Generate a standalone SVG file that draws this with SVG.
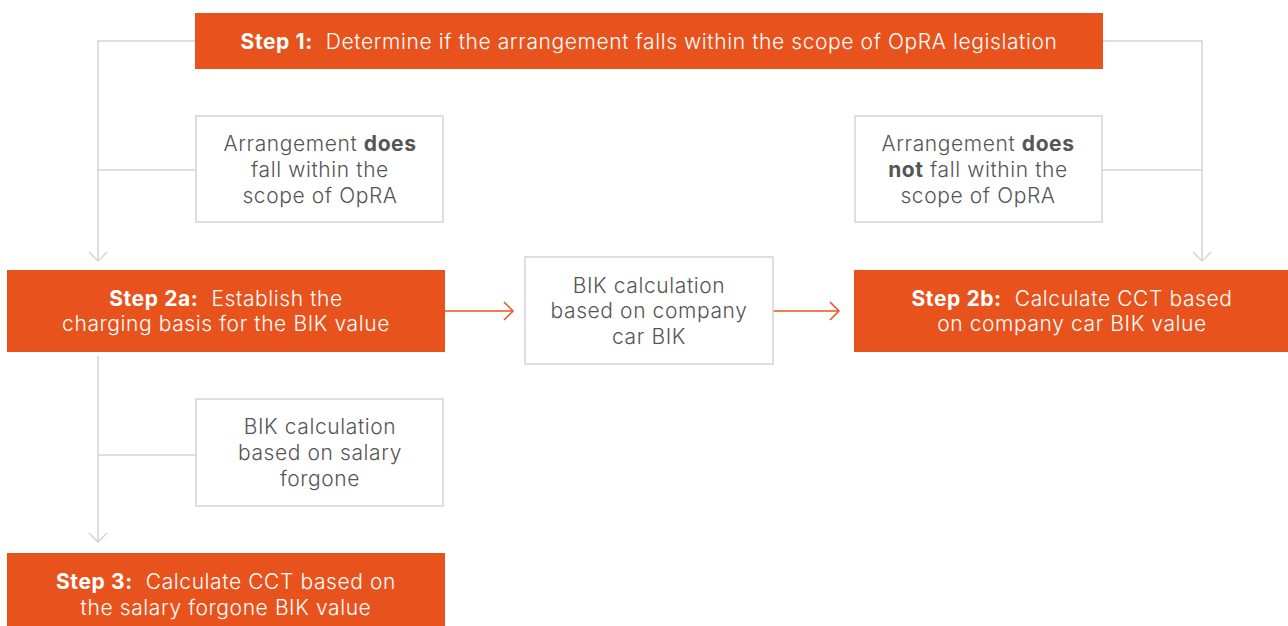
<svg xmlns="http://www.w3.org/2000/svg" width="1288" height="626" viewBox="0 0 1288 626">
<style>
.step{fill:#E8531D}
.opt{fill:#fff;stroke:#d4d4d4;stroke-width:1.5}
.st{font-family:Inter,"Open Sans",sans-serif;font-size:21px;font-weight:300;letter-spacing:0.6px;fill:#fff;text-anchor:middle;white-space:pre}
.ot{font-family:Inter,"Open Sans",sans-serif;font-size:21px;font-weight:300;letter-spacing:0.6px;fill:#555;text-anchor:middle}
.b{font-weight:700}
.g{fill:none;stroke:#d4d4d4;stroke-width:1.5}
.o{fill:none;stroke:#E8531D;stroke-width:1.5}
</style>
<defs>
<marker id="ag" markerWidth="20" markerHeight="20" refX="10" refY="10" markerUnits="userSpaceOnUse" orient="auto">
<path d="M1,1 L10,10 L1,19" fill="none" stroke="#d4d4d4" stroke-width="1.5"/>
</marker>
<marker id="ao" markerWidth="20" markerHeight="20" refX="10" refY="10" markerUnits="userSpaceOnUse" orient="auto">
<path d="M1,1 L10,10 L1,19" fill="none" stroke="#E8531D" stroke-width="1.5"/>
</marker>
</defs>
<rect width="1288" height="626" fill="#fff"/>
<g id="connectors">
<path class="g" d="M195,41 H98 V261" marker-end="url(#ag)"/>
<path class="g" d="M98,170 H196"/>
<path class="g" d="M1103,41 H1202 V261" marker-end="url(#ag)"/>
<path class="g" d="M1102,170 H1202"/>
<path class="o" d="M445,311 H513" marker-end="url(#ao)"/>
<path class="o" d="M773,311 H839" marker-end="url(#ao)"/>
<path class="g" d="M98,356 V542" marker-end="url(#ag)"/>
<path class="g" d="M98,455 H196"/>
</g>
<g id="step1">
<rect class="step" x="195" y="13" width="908" height="56"/>
<text class="st" x="649" y="49"><tspan class="b">Step 1:</tspan>  Determine if the arrangement falls within the scope of OpRA legislation</text>
</g>
<g id="does">
<rect class="opt" x="196" y="116" width="247" height="106"/>
<text class="ot" x="320" y="151">Arrangement <tspan class="b">does</tspan></text>
<text class="ot" x="320" y="177">fall within the</text>
<text class="ot" x="320" y="203">scope of OpRA</text>
</g>
<g id="doesnot">
<rect class="opt" x="855" y="116" width="247" height="106"/>
<text class="ot" x="978" y="151">Arrangement <tspan class="b">does</tspan></text>
<text class="ot" x="978" y="177"><tspan class="b">not</tspan> fall within the</text>
<text class="ot" x="978" y="203">scope of OpRA</text>
</g>
<g id="step2a">
<rect class="step" x="7" y="270" width="438" height="82"/>
<text class="st" x="226" y="306"><tspan class="b">Step 2a:</tspan>  Establish the</text>
<text class="st" x="226" y="331">charging basis for the BIK value</text>
</g>
<g id="company">
<rect class="opt" x="525" y="257" width="248" height="107"/>
<text class="ot" x="649" y="293">BIK calculation</text>
<text class="ot" x="649" y="318">based on company</text>
<text class="ot" x="649" y="344">car BIK</text>
</g>
<g id="step2b">
<rect class="step" x="854" y="270" width="434" height="82"/>
<text class="st" x="1072" y="306"><tspan class="b">Step 2b:</tspan>  Calculate CCT based</text>
<text class="st" x="1072" y="331">on company car BIK value</text>
</g>
<g id="salary">
<rect class="opt" x="196" y="399" width="247" height="107"/>
<text class="ot" x="320" y="434">BIK calculation</text>
<text class="ot" x="320" y="460">based on salary</text>
<text class="ot" x="320" y="486">forgone</text>
</g>
<g id="step3">
<rect class="step" x="7" y="553" width="438" height="73"/>
<text class="st" x="226" y="589"><tspan class="b">Step 3:</tspan>  Calculate CCT based on</text>
<text class="st" x="226" y="615">the salary forgone BIK value</text>
</g>
</svg>
